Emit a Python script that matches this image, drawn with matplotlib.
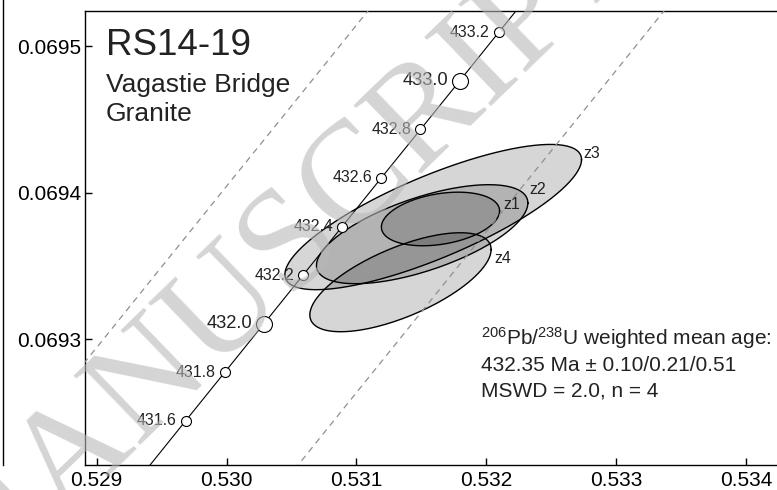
import numpy as np
import matplotlib
matplotlib.use('Agg')
import matplotlib.pyplot as plt
from matplotlib.lines import Line2D

plt.rcParams['font.family'] = ['Liberation Sans', 'DejaVu Sans']
plt.rcParams['mathtext.fontset'] = 'custom'
plt.rcParams['mathtext.rm'] = 'Liberation Sans'
plt.rcParams['mathtext.default'] = 'regular'

# concordia points (207Pb/235U, 206Pb/238U) at each age in Ma
conc_ages = [431.4, 431.6, 431.8, 432.0, 432.2, 432.4, 432.6, 432.8, 433.0, 433.2, 433.4]
conc_x = [0.529383, 0.529684, 0.529986, 0.530287, 0.530588, 0.530890,
          0.531191, 0.531493, 0.531795, 0.532096, 0.532398]
conc_y = [0.0692109, 0.0692441, 0.0692773, 0.0693104, 0.0693436, 0.0693768,
          0.0694100, 0.0694431, 0.0694763, 0.0695095, 0.0695427]
labelled_ages = [431.6, 431.8, 432.0, 432.2, 432.4, 432.6, 432.8, 433.0, 433.2]
major_ages = [432.0, 433.0]
# decay constant uncertainty envelope (offset in 207Pb/235U)
env_dx = 0.00114

# zircon analyses: centre, 2 sigma half-widths, error correlation
grains = ['z1', 'z2', 'z3', 'z4']
x_ratio = [0.531647, 0.531506, 0.531591, 0.531339]
x_err = [0.000455, 0.000814, 0.001142, 0.000698]
y_ratio = [0.0693820, 0.0693716, 0.0693833, 0.0693388]
y_err = [0.0000183, 0.0000338, 0.0000496, 0.0000338]
rho = [0.30, 0.63, 0.79, 0.66]

xticks = [0.529, 0.530, 0.531, 0.532, 0.533, 0.534]
yticks = [0.0693, 0.0694, 0.0695]

fig = plt.figure(figsize=(7.77, 4.9), dpi=100)
ax = fig.add_axes([85 / 777, 1 - 465 / 490, 1 - 85 / 777, 454 / 490])

# ellipses
t = np.linspace(0, 2 * np.pi, 200)
label_off = {'z1': (4, 6), 'z2': (1, 14), 'z3': (2, 6), 'z4': (3, -9)}
for g, cx, sx, cy, sy, r in zip(grains, x_ratio, x_err, y_ratio, y_err, rho):
    ex = cx + sx * np.cos(t)
    ey = cy + sy * (r * np.cos(t) + np.sqrt(1 - r ** 2) * np.sin(t))
    ax.fill(ex, ey, facecolor='black', alpha=0.16, edgecolor='none', zorder=2)
    ax.plot(ex, ey, color='black', lw=1.0, zorder=3)
    dx, dy = label_off[g]
    ax.annotate(g, (cx + sx, cy + sy * r), xytext=(dx * 0.72, dy * 0.72),
                textcoords='offset points', fontsize=11.5, ha='left', va='center',
                color='#222222', zorder=6)

# envelope and concordia
cx_arr = np.array(conc_x)
for sgn in (-1, 1):
    ax.plot(cx_arr + sgn * env_dx, conc_y, color='#8f8f8f', lw=0.9,
            dashes=(5, 4), zorder=4)
ax.plot(conc_x, conc_y, color='black', lw=0.8, zorder=4)

for age, px, py in zip(conc_ages, conc_x, conc_y):
    if age not in labelled_ages:
        continue
    big = age in major_ages
    ax.plot(px, py, 'o', ms=11.5 if big else 7.2, mfc='white', mec='black',
            mew=0.8, zorder=5)
    ax.annotate(f'{age:.1f}', (px, py), xytext=(-8.5 if big else -6.5, 0),
                textcoords='offset points', ha='right', va='center',
                fontsize=13.2 if big else 11.4, color='#222222', zorder=6)

ax.set_xlim(0.52891, 0.534238)
ax.set_ylim(0.069214, 0.069524)
ax.set_xticks(xticks)
ax.set_xticklabels([f'{v:.3f}' for v in xticks])
ax.set_yticks(yticks)
ax.set_yticklabels([f'{v:.4f}' for v in yticks])
ax.tick_params(direction='in', length=5, width=1, labelsize=15, colors='black')
ax.tick_params(axis='x', pad=4)
ax.tick_params(axis='y', pad=3)
ax.spines['right'].set_visible(False)
for s in ('left', 'top', 'bottom'):
    ax.spines[s].set_linewidth(1.0)

# sample name
ax.text(0.030, 0.903, 'RS14-19', transform=ax.transAxes, fontsize=26.5,
        color='#222222', va='baseline')
ax.text(0.030, 0.8216, 'Vagastie Bridge', transform=ax.transAxes, fontsize=19,
        color='#222222', va='baseline')
ax.text(0.030, 0.7584, 'Granite', transform=ax.transAxes, fontsize=19,
        color='#222222', va='baseline')

# age result
res_lines = [r'$^{206}$Pb/$^{238}$U weighted mean age:',
             '432.35 Ma \u00b1 0.10/0.21/0.51',
             'MSWD = 2.0, n = 4']
for i, s in enumerate(res_lines):
    ax.text(0.572, 0.2643 - i * 0.0562, s, transform=ax.transAxes, fontsize=15,
            color='#222222', va='baseline')

# edge of the neighbouring panel
fig.add_artist(Line2D([3 / 777, 3 / 777], [1 - 465 / 490, 1], transform=fig.transFigure,
                      color='black', lw=1.0))

# watermark
fig.text(282 / 777, 1 - 255 / 490, 'MANUSCRIPT', rotation=44, ha='center', va='center',
         rotation_mode='anchor', fontsize=105, family='Liberation Serif',
         color='0.72', alpha=0.6, zorder=10)

fig.savefig('out.png', dpi=100)
